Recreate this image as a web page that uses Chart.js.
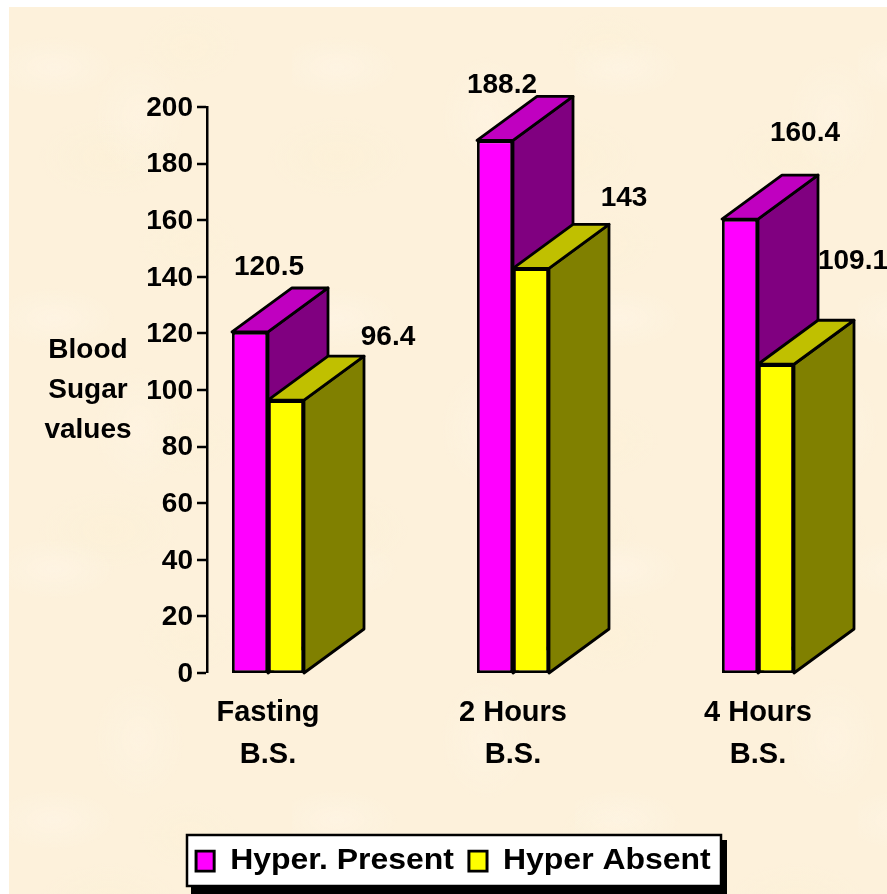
<!DOCTYPE html>
<html><head><meta charset="utf-8">
<style>
html,body{margin:0;padding:0;background:#fff;width:887px;height:894px;overflow:hidden}
#bg{position:absolute;left:9px;top:7px;width:878px;height:887px;
background-color:#FDF1DB;
background-image:
 radial-gradient(ellipse 60px 30px at 45px 60px,rgba(255,247,235,.45),transparent),
 radial-gradient(ellipse 45px 60px at 130px 110px,rgba(255,246,232,.4),transparent),
 radial-gradient(ellipse 70px 40px at 100px 150px,rgba(251,240,212,.4),transparent),
 radial-gradient(ellipse 50px 35px at 180px 40px,rgba(252,241,214,.4),transparent);
background-size:283px 251px,347px 311px,229px 373px,419px 197px}
#wrap{position:absolute;left:0;top:0;width:887px;height:894px}
</style>
<script src="https://cdn.jsdelivr.net/npm/chart.js@4"></script>
</head><body>
<div id="bg"></div>
<div id="wrap"><canvas id="c" width="887" height="894"></canvas></div>
<script>
const categories = [["Fasting","B.S."],["2 Hours","B.S."],["4 Hours","B.S."]];
const seriesNames = ["Hyper. Present","Hyper Absent"];
const hyperPresent = [120.5,188.2,160.4];
const hyperAbsent = [96.4,143,109.1];
const yTicks = [0,20,40,60,80,100,120,140,160,180,200];
const yTitle = ["Blood","Sugar","values"];
const frontColors = ["#FF00FF","#FFFF00"];
const topColors = ["#C000C0","#C0C000"];
const sideColors = ["#800080","#808000"];
const labelShift = [[[19,-65],[7,-55],[65,-86]],[[102,-63],[93,-70],[77,-103]]];
const FONT = '"Liberation Sans", Arial, sans-serif';
const DX = 60, DY = -44, STROKE = 2.8, LEGEND_STRETCH = 1.065;

const extras = {
  id:'extras',
  beforeDraw(chart){
    const ctx = chart.ctx, l = chart.legend;
    ctx.save();
    ctx.fillStyle='#000'; ctx.fillRect(191,840,536,54);
    ctx.fillStyle='#fff'; ctx.strokeStyle='#000'; ctx.lineWidth=2.5;
    ctx.fillRect(187,835,534,51); ctx.strokeRect(187,835,534,51);
    ctx.restore();
    l.left=170; l.right=700; l.top=832; l.bottom=892;
    if(!l._stretched){
      const orig=l.draw;
      l.draw=function(a){ctx.save();ctx.scale(LEGEND_STRETCH,1);orig.call(this,a);ctx.restore();};
      l._stretched=true;
    }
  },
  beforeDatasetsDraw(chart){
    const ctx = chart.ctx;
    ctx.save();
    ctx.lineWidth=STROKE; ctx.strokeStyle='#000'; ctx.lineJoin='round';
    chart.data.datasets.forEach((d,i)=>{
      chart.getDatasetMeta(i).data.forEach(b=>{
        const L=b.x-b.width/2, R=b.x+b.width/2, T=b.y, B=b.base;
        ctx.fillStyle=sideColors[i];
        ctx.beginPath();ctx.moveTo(R,T);ctx.lineTo(R+DX,T+DY);ctx.lineTo(R+DX,B+DY);ctx.lineTo(R,B);ctx.closePath();ctx.fill();ctx.stroke();
        ctx.fillStyle=topColors[i];
        ctx.beginPath();ctx.moveTo(L,T);ctx.lineTo(L+DX,T+DY);ctx.lineTo(R+DX,T+DY);ctx.lineTo(R,T);ctx.closePath();ctx.fill();ctx.stroke();
      });
    });
    ctx.restore();
  },
  afterDraw(chart){
    const ctx = chart.ctx;
    ctx.save();
    ctx.fillStyle='#000'; ctx.font='bold 28px '+FONT; ctx.textAlign='center'; ctx.textBaseline='middle';
    chart.data.datasets.forEach((d,i)=>{
      chart.getDatasetMeta(i).data.forEach((b,j)=>{
        ctx.fillText(String(d.data[j].y), b.x+labelShift[i][j][0], b.y+labelShift[i][j][1]);
      });
    });
    ctx.font='bold 28px '+FONT;
    yTitle.forEach((t,k)=>ctx.fillText(t, 88, 350+40*k));
    ctx.restore();
  }
};

new Chart(document.getElementById('c'),{
  type:'bar',
  data:{datasets:[
    {label:seriesNames[0],data:hyperPresent.map((y,x)=>({x,y})),backgroundColor:frontColors[0],borderColor:'#000',borderWidth:STROKE,borderSkipped:false},
    {label:seriesNames[1],data:hyperAbsent.map((y,x)=>({x,y})),backgroundColor:frontColors[1],borderColor:'#000',borderWidth:STROKE,borderSkipped:false}
  ]},
  options:{
    responsive:false,animation:false,
    layout:{padding:{top:107,right:2,left:0,bottom:0}},
    datasets:{bar:{categoryPercentage:72/245,barPercentage:1}},
    plugins:{
      tooltip:{enabled:false},
      legend:{position:'bottom',align:'start',labels:{boxWidth:17,boxHeight:20,padding:14.1,color:'#000',font:{family:FONT,size:30,weight:'bold'}}}
    },
    scales:{
      x:{type:'linear',min:-61/245,max:2+127/245,offset:false,
        grid:{display:false},border:{display:false},
        afterBuildTicks(s){s.ticks=categories.map((c,i)=>({value:i}));},
        afterFit(s){s.height=221-(s.chart.legend?s.chart.legend.height:0);},
        ticks:{color:'#000',padding:11,maxRotation:0,autoSkip:false,font:{family:FONT,size:29,weight:'bold',lineHeight:1.45},callback:v=>categories[v]}
      },
      y:{min:0,max:200,position:'left',
        afterFit(s){s.width=207;},
        afterBuildTicks(s){s.ticks=yTicks.map(v=>({value:v}));},
        grid:{drawOnChartArea:false,drawTicks:true,tickLength:10,lineWidth:0,tickWidth:2.5,tickColor:'#000',color:'#000'},
        border:{display:true,color:'#000',width:2.5},
        ticks:{color:'#000',padding:4,labelOffset:1,font:{family:FONT,size:28,weight:'bold'}}
      }
    }
  },
  plugins:[extras]
});
</script>
</body></html>
